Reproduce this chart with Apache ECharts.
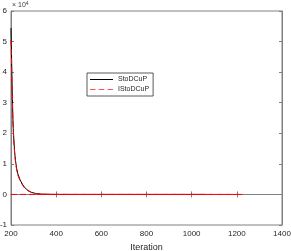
<!DOCTYPE html>
<html><head><meta charset="utf-8">
<script src="https://cdn.jsdelivr.net/npm/echarts@6/dist/echarts.min.js"></script>
<style>html,body{margin:0;padding:0;background:#fff}#c{width:291px;height:251px}</style>
</head><body><div id="c"></div>
<script>
// Iterations and objective values (x 10^4)
var itersA = [200, 202, 204, 206, 208, 210, 213, 216, 220, 225, 230, 240, 250, 260, 275, 290, 310, 330, 360, 400, 500, 700, 900, 1065];
var valsA  = [5.44, 4.7, 3.9, 3.2, 2.6, 2.15, 1.75, 1.4, 1.1, 0.85, 0.68, 0.48, 0.34, 0.23, 0.13, 0.07, 0.03, 0.012, 0.004, 0.001, 0, 0, 0, 0];
var itersB = [200, 202, 204, 206, 208, 210, 213, 216, 220, 225, 230, 240, 250, 260, 275, 290, 310, 330, 360, 400, 500, 700, 900, 1100, 1225];
var valsB  = [5.05, 4.4, 3.7, 3.05, 2.5, 2.1, 1.7, 1.35, 1.05, 0.8, 0.64, 0.45, 0.32, 0.21, 0.12, 0.065, 0.028, 0.01, 0.003, 0.001, 0, 0, 0, 0, 0];
var baseB  = [[200, 0], [1225, 0]];
var xTicks = [200, 400, 600, 800, 1000, 1200, 1400];
var yTicks = [-1, 0, 1, 2, 3, 4, 5, 6];
var names  = ['StoDCuP', 'IStoDCuP'];

function pairs(xs, ys){ return xs.map(function(x,i){ return [x, ys[i]*1e4]; }); }

var chart = echarts.init(document.getElementById('c'), null, {renderer:'canvas'});
var axisCol = '#808080', txtCol = '#262626', ff = 'Liberation Sans, Arial, sans-serif';
chart.setOption({
  animation:false,
  grid:{left:11, right:9, top:11, bottom:26, outerBoundsMode:'none', containLabel:false, show:true, borderColor:axisCol, borderWidth:1, backgroundColor:'#fff'},
  xAxis:[{type:'value', min:xTicks[0], max:xTicks[xTicks.length-1], interval:200,
    name:'Iteration', nameLocation:'middle', nameGap:15, nameTextStyle:{fontSize:9, color:txtCol, fontFamily:ff},
    axisLine:{lineStyle:{color:axisCol}}, axisTick:{inside:true, length:3, lineStyle:{color:axisCol}},
    axisLabel:{fontSize:8, color:txtCol, fontFamily:ff, margin:5, formatter:function(v){return String(v);}}, splitLine:{show:false}},
    {type:'value', position:'top', min:200, max:1400, interval:200, axisLine:{lineStyle:{color:axisCol}},
    axisTick:{inside:true, length:3, lineStyle:{color:axisCol}}, axisLabel:{show:false}, splitLine:{show:false}}],
  yAxis:[{type:'value', min:-1e4, max:6e4, interval:1e4,
    axisLine:{show:true, lineStyle:{color:axisCol}}, axisTick:{show:true, inside:true, length:3, lineStyle:{color:axisCol}},
    axisLabel:{fontSize:8, color:txtCol, fontFamily:ff, margin:4, formatter:function(v){return String(Math.round(v/1e4));}},
    splitLine:{show:false}},
    {type:'value', position:'right', min:-1e4, max:6e4, interval:1e4, axisLine:{show:true, lineStyle:{color:axisCol}},
    axisTick:{show:true, inside:true, length:3, lineStyle:{color:axisCol}}, axisLabel:{show:false}, splitLine:{show:false}}],
  legend:{data:[{name:names[0], icon:'path://M0,0h23v1h-23z', itemStyle:{color:'#000000', opacity:1}},
                {name:names[1], icon:'path://M0,0h5v1h-5z M8,0h5v1h-5z M16,0h5v1h-5z', itemStyle:{color:'#ff5050', opacity:1}}],
    orient:'vertical', left:87, top:73, padding:[3,4,3,3], itemGap:3, itemWidth:23, itemHeight:8,
    backgroundColor:'#fff', borderColor:'#303030', borderWidth:0.8, borderRadius:0,
    textStyle:{fontSize:7, color:txtCol, fontFamily:ff}},
  graphic:[{type:'text', left:12, top:1, style:{rich:{a:{fontSize:7, fill:'#404040', fontFamily:ff}, b:{fontSize:5, fill:'#404040', fontFamily:ff, verticalAlign:'top', padding:[0,0,4,0]}}, text:'{a|\u00d7 10}{b|4}'}}],
  series:[
    {name:names[0], type:'line', data:pairs(itersA, valsA), showSymbol:false, symbol:'none', lineStyle:{color:'#000', width:1}, itemStyle:{color:'#000'}, z:3},
    {name:names[1], type:'line', data:pairs(itersB, valsB), showSymbol:false, symbol:'none', lineStyle:{color:'#ff0000', width:1, type:[6,3]}, itemStyle:{color:'#ff0000'}, z:4},
    {name:'base', type:'line', data:baseB, showSymbol:false, symbol:'none', lineStyle:{color:'#ff0000', width:1, type:[6,3]}, z:4}
  ]
});
</script></body></html>
